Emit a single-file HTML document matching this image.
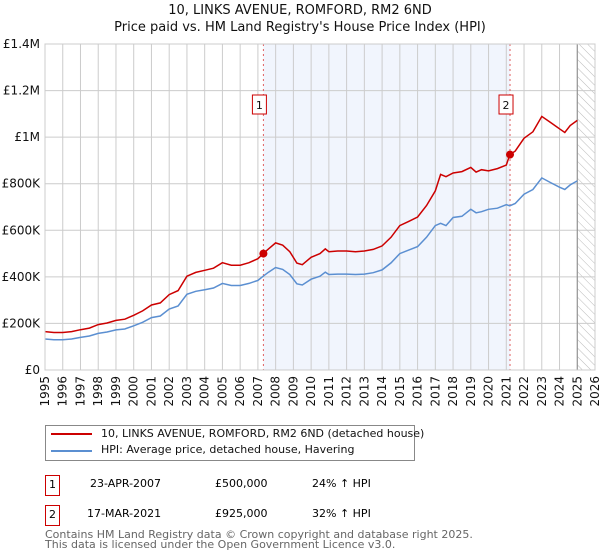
<!DOCTYPE html>
<html><head><meta charset="utf-8"><style>
body{margin:0;width:600px;height:560px;background:#fff;font-family:"DejaVu Sans","Liberation Sans",sans-serif;overflow:hidden;position:relative}
.t{position:absolute;white-space:nowrap}
</style></head><body>
<div class="t" style="left:0;width:600px;text-align:center;top:3px;font-size:13px;color:#111">10, LINKS AVENUE, ROMFORD, RM2 6ND</div>
<div class="t" style="left:0;width:600px;text-align:center;top:20px;font-size:13px;color:#111">Price paid vs. HM Land Registry's House Price Index (HPI)</div>
<svg id="chart" width="600" height="410" style="position:absolute;left:0;top:0" font-family="DejaVu Sans, Liberation Sans, sans-serif"></svg>
<div style="position:absolute;left:45px;top:425px;width:370px;height:36px;border:1px solid #888;box-sizing:border-box">
  <div style="position:absolute;left:5px;top:7px;width:41px;height:2px;background:#cc0000"></div>
  <div class="t" style="left:55px;top:1px;font-size:11px;color:#111">10, LINKS AVENUE, ROMFORD, RM2 6ND (detached house)</div>
  <div style="position:absolute;left:5px;top:24px;width:41px;height:2px;background:#5b8fd1"></div>
  <div class="t" style="left:55px;top:17px;font-size:11px;color:#111">HPI: Average price, detached house, Havering</div>
</div>
<div>
<div class="t" style="left:45px;top:475px;width:13px;height:19px;border:1px solid #cc0000;font-size:11px;text-align:center;line-height:18px">1</div>
<div class="t" style="left:90px;top:477px;font-size:11px">23-APR-2007</div>
<div class="t" style="left:215px;top:477px;font-size:11px">£500,000</div>
<div class="t" style="left:312px;top:477px;font-size:11px">24% ↑ HPI</div>
</div>
<div>
<div class="t" style="left:45px;top:505px;width:13px;height:19px;border:1px solid #cc0000;font-size:11px;text-align:center;line-height:18px">2</div>
<div class="t" style="left:87px;top:507px;font-size:11px">17-MAR-2021</div>
<div class="t" style="left:215px;top:507px;font-size:11px">£925,000</div>
<div class="t" style="left:312px;top:507px;font-size:11px">32% ↑ HPI</div>
</div>
<div class="t" style="left:45px;top:530px;font-size:11px;color:#666;line-height:10px">Contains HM Land Registry data © Crown copyright and database right 2025.<br>This data is licensed under the Open Government Licence v3.0.</div>
<script>
const years=[1995,1995.5,1996,1996.5,1997,1997.5,1998,1998.5,1999,1999.5,2000,2000.5,2001,2001.5,2002,2002.5,2003,2003.5,2004,2004.5,2005,2005.5,2006,2006.5,2007,2007.3,2007.6,2008,2008.4,2008.8,2009.2,2009.5,2010,2010.5,2010.8,2011,2011.5,2012,2012.5,2013,2013.5,2014,2014.5,2015,2015.5,2016,2016.5,2017,2017.3,2017.6,2018,2018.5,2019,2019.3,2019.6,2020,2020.5,2021,2021.2,2021.5,2022,2022.5,2023,2023.5,2024,2024.3,2024.6,2025];
const hpiValues=[133,130,130,133,140,146,157,163,172,176,190,205,225,232,262,275,325,338,345,352,372,363,363,372,385,403,420,440,432,410,370,365,390,403,420,410,412,412,410,412,418,430,460,500,515,530,570,620,630,620,655,660,690,675,680,690,695,710,705,715,755,775,825,805,785,775,795,812];
const priceValues=[165,161,161,165,173,180,195,202,213,218,235,254,279,288,324,341,403,419,428,437,461,450,450,461,478,500,520,546,536,508,459,452,484,500,520,508,511,511,508,511,518,533,570,620,638,657,706,769,840,830,846,852,870,850,860,855,865,880,925,940,995,1023,1089,1063,1036,1020,1050,1072];
const yTicks=[0,200,400,600,800,1000,1200,1400];
const yTickLabels=["£0","£200K","£400K","£600K","£800K","£1M","£1.2M","£1.4M"];
const xTicks=[1995,1996,1997,1998,1999,2000,2001,2002,2003,2004,2005,2006,2007,2008,2009,2010,2011,2012,2013,2014,2015,2016,2017,2018,2019,2020,2021,2022,2023,2024,2025,2026];
const sales=[{label:"1",year:2007.31,value:500},{label:"2",year:2021.21,value:925}];
const L=45,R=595,T=44,B=370,Y0=1995,Y1=2026,VMAX=1400;
const x=y=>L+(y-Y0)/(Y1-Y0)*(R-L);
const y=v=>B-v/VMAX*(B-T);
const svg=document.getElementById('chart');const NS='http://www.w3.org/2000/svg';
function mk(tag,attrs,parent){const e=document.createElementNS(NS,tag);for(const k in attrs)e.setAttribute(k,attrs[k]);(parent||svg).appendChild(e);return e;}
const defs=mk('defs',{});
const pat=mk('pattern',{id:'hatch',width:6,height:6,patternUnits:'userSpaceOnUse',patternTransform:'rotate(-45)'},defs);
mk('line',{x1:0,y1:0,x2:0,y2:6,stroke:'#bbb','stroke-width':1},pat);
const shade=mk('rect',{x:x(sales[0].year),y:T,width:x(sales[1].year)-x(sales[0].year),height:B-T,fill:'#eef3fd',opacity:0.8});

const hatch=mk('rect',{x:x(2025),y:T,width:R-x(2025),height:B-T,fill:'url(#hatch)'});

yTicks.forEach((v,i)=>{const g=mk('line',{x1:L,x2:R,y1:y(v),y2:y(v),stroke:'#ccc','stroke-width':1});

const t=mk('text',{x:L-5,y:y(v)+4,'text-anchor':'end','font-size':12,fill:'#111'});t.textContent=yTickLabels[i];
});
xTicks.forEach(yr=>{const g=mk('line',{x1:x(yr),x2:x(yr),y1:T,y2:B,stroke:'#ccc','stroke-width':1});

const t=mk('text',{transform:`translate(${x(yr)+4},${B+6}) rotate(-90)`,'text-anchor':'end','font-size':12,fill:'#111'});t.textContent=yr;
});
const vl=mk('line',{x1:x(2025),x2:x(2025),y1:T,y2:B,stroke:'#888','stroke-width':1});

sales.forEach(s=>{const l=mk('line',{x1:x(s.year),x2:x(s.year),y1:T,y2:B,stroke:'#e06060','stroke-width':1,'stroke-dasharray':'2,3'});
});
const pts=a=>a.map((v,i)=>x(years[i]).toFixed(1)+','+y(v).toFixed(1)).join(' ');
const hl=mk('polyline',{points:pts(hpiValues),fill:'none',stroke:'#5b8fd1','stroke-width':1.5});

const pl=mk('polyline',{points:pts(priceValues),fill:'none',stroke:'#cc0000','stroke-width':1.5});

sales.forEach(s=>{const c=mk('circle',{cx:x(s.year),cy:y(s.value),r:4,fill:'#cc0000'});

const bx=x(s.year)-4;
const r=mk('rect',{x:bx-7,y:95,width:14,height:19,fill:'#fff',stroke:'#cc0000','stroke-width':1});

const t=mk('text',{x:bx,y:109,'text-anchor':'middle','font-size':11,fill:'#111'});t.textContent=s.label;
});
const fr=mk('rect',{x:L,y:T,width:R-L,height:B-T,fill:'none',stroke:'#ccc'});

</script>
</body></html>
